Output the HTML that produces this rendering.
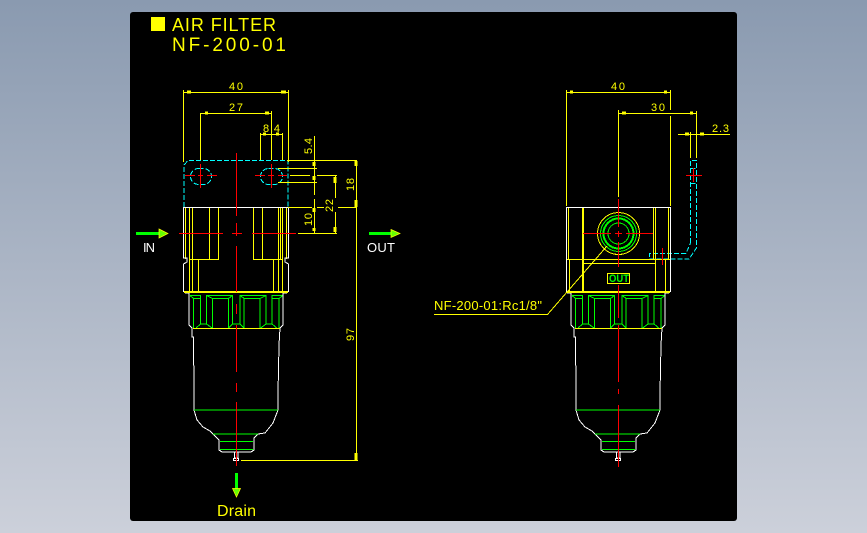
<!DOCTYPE html>
<html><head><meta charset="utf-8"><style>
html,body{margin:0;padding:0;width:867px;height:533px;overflow:hidden;background:linear-gradient(180deg,#8a9ab0 0%,#ccd0da 100%)}
svg{position:absolute;left:0;top:0}
text{font-family:"Liberation Sans",sans-serif;white-space:pre}
</style></head><body>
<svg width="867" height="533" viewBox="0 0 867 533" xmlns="http://www.w3.org/2000/svg">
<rect x="130" y="12" width="607" height="509" rx="3" fill="#000"/>
<defs>
<g id="gh" fill="none" stroke="#00ff00" stroke-width="1">
<path d="M190 295.5H200.5V324H206.5V295.5H232.5V324H236.5"/>
<path d="M190 295.5L193.5 298.5H200.5M193.5 298.5V328M206.5 295.5L212.5 298.5H228.5L232.5 295.5M212.5 298.5V328M228.5 298.5V328M206.5 324L212 328M228.5 328L232.5 324M200.5 324L196 328"/>
</g>
<g id="green"><use href="#gh"/><use href="#gh" transform="translate(472.6,0) scale(-1,1)"/></g>
<g id="lower">
<use href="#green"/>
<path fill="none" stroke="#fff" stroke-width="1" d="M185 293H189V325L192 328V337H193.5L194 393V410L197 420L203 427L210 431L213 434L219 440V450L222 452H251L254 450V438L258 434L265 433L273 423L278 410V393L279 345L280 328L283 325V293H287"/>
<path fill="none" stroke="#00ff00" d="M194 410H278M213 434H258M220 441.5H253M220 449.5H253"/>
<path fill="none" stroke="#fff" d="M234.5 452V458H238V452M233.5 458.5H238.5V460.5H233.5Z"/>
<path stroke="#ffff00" stroke-width="2" d="M184 292H288"/>
<path stroke="#ffff00" stroke-width="1" d="M193 328.5H280"/>
</g>
</defs>

<!-- title -->
<rect x="151" y="17" width="14" height="14" fill="#ffff00"/>
<text x="172" y="31" font-size="18" fill="#ffff00" textLength="104" lengthAdjust="spacing">AIR FILTER</text>
<text x="172" y="51" font-size="19" fill="#ffff00" textLength="114" lengthAdjust="spacing">NF-200-01</text>

<!-- left view body -->
<g shape-rendering="crispEdges">
<g fill="none" stroke="#ffff00" stroke-width="1">
<path d="M185.5 207V259M189.5 207V292M192.5 207V292M198.5 259V292M209.5 207V259M218.5 207V259M253.5 207V259M262.5 207V259M273.5 259V292M278.5 207V292M280.5 207V259M282.5 207V292M286.5 207V259M189 259.5H219M253 259.5H283"/>
</g>
<path fill="none" stroke="#fff" stroke-width="1" d="M183.5 292V264L187 262V258H183.5V207.5H288.5V258H285V262L288.5 264V292"/>
<use href="#lower"/>
<!-- cyan -->
<g fill="none" stroke="#00ffff" stroke-width="1" stroke-dasharray="5 2">
<path d="M184 207V165L188 160.5H288V207"/>
<rect x="190.5" y="168.5" width="21" height="16" rx="8"/>
<rect x="260.5" y="168.5" width="22" height="16" rx="8"/>
<path d="M690.5 243V160.5H696.5V248L689 259H649.5V253.5H686L690.5 243"/>
<path d="M690.5 168.5H696.5M690.5 183.5H696.5"/>
</g>
<!-- left red -->
<g stroke="#ff0000" stroke-width="1" fill="none">
<path d="M236.5 153V216M236.5 223V236M236.5 246V292M236.5 304V314M236.5 325V372M236.5 383V392M236.5 402V466"/>
<path d="M179 233.5H223M232 233.5H242M252 233.5H296"/>
<path d="M185 175.5H195M198 175.5H203M207 175.5H217M200.5 164V188"/>
<path d="M255 175.5H265M268 175.5H274M278 175.5H287M271.5 164V188"/>
</g>
<!-- left dims -->
<g stroke="#ffff00" stroke-width="1" fill="none">
<path d="M183.5 90V162M288.5 90V162M183 92.5H289"/>
<path d="M200.5 113V160M271.5 111V160M200 113.5H272"/>
<path d="M260.5 133V160M282.5 133V160M260 134.5H283"/>
<path d="M314.5 136V195M314.5 199V233"/>
<path d="M335.5 175V198M335.5 212V233"/>
<path d="M356.5 160V461"/>
<path d="M287 160.5H357M278 168.5H317M290 175.5H310M317 175.5H337M278 182.5H317M288 207.5H312M317 207.5H324M338 207.5H357M298 233.5H337M241 460.5H358"/>
</g>
<g stroke="#ffff00" stroke-width="3" fill="none">
<path d="M187 92H191M281 92H286M205 113H208M265 113H269M263 134H266M276 134H279"/>
<path d="M314 162V166M314 176V180M314 208V212M314 228V231M335 177V183M335 227V232M356 161V166M356 200V207M356 453V460"/>
</g>
<!-- right view -->
<use href="#lower" transform="translate(382,0)"/>
<g fill="none" stroke="#ffff00" stroke-width="1">
<path d="M568.5 207V259M569.5 259V292M582.5 207V292M583.5 207V292M653.5 207V259M655.5 207V292M665.5 259V292M668.5 207V259M566 259.5H670M582 263.5H655"/>
</g>
<path fill="none" stroke="#fff" d="M566.5 292V207.5H670.5V292"/>
<g fill="none">
<circle cx="618.5" cy="233.5" r="21" stroke="#ffff00"/>
<circle cx="618.5" cy="233.5" r="18" stroke="#00ff00"/>
<circle cx="618.5" cy="233.5" r="15" stroke="#00ff00" stroke-width="2"/>
<circle cx="618.5" cy="233.5" r="10.5" stroke="#00ff00"/>
</g>
<rect x="607.5" y="273.5" width="22" height="10" fill="#000" stroke="#ffff00"/>
<g stroke="#ff0000" stroke-width="1" fill="none">
<path d="M583 233.5H611M615 233.5H622M626 233.5H653M618.5 199V227M618.5 231V237M618.5 242V267"/>
<path d="M618.5 285V318M618.5 325V382M618.5 389V394M618.5 405V467"/>
<path d="M662.5 248V265M686 175.5H702M693.5 168V182"/>
</g>
<g stroke="#ffff00" stroke-width="1" fill="none">
<path d="M566.5 90V206M670.5 90V110M670.5 116V206M566 92.5H671"/>
<path d="M618.5 110V197M696.5 111V158M618 113.5H697"/>
<path d="M678 134.5H730M690.5 132V158"/>
<path d="M434 314.5H547.5L607 246"/>
</g>
<g stroke="#ffff00" stroke-width="3" fill="none">
<path d="M570 92H573M664 92H667M622 113H626M690 113H693M685 134H689M700 134H704"/>
</g>
</g>

<!-- green arrows -->
<g>
<path d="M136 233.5H160" stroke="#00ff00" stroke-width="3"/>
<path d="M159 229L168 233.5L159 238Z" fill="#66ff00" stroke="#ffff00" stroke-width="0.7"/>
<path d="M369 233.5H392" stroke="#00ff00" stroke-width="3"/>
<path d="M391 229.5L400 233.5L391 237.5Z" fill="#66ff00" stroke="#ffff00" stroke-width="0.7"/>
<path d="M236.5 473V490" stroke="#00ff00" stroke-width="3"/>
<path d="M232.5 488.5L236.5 497L240.5 488.5Z" fill="#66ff00" stroke="#ffff00" stroke-width="0.7"/>
</g>

<!-- labels -->
<g fill="#ffff00" font-size="11">
<text x="229" y="90" textLength="14" lengthAdjust="spacing">40</text>
<text x="229" y="111" textLength="14" lengthAdjust="spacing">27</text>
<text x="263" y="132" textLength="17" lengthAdjust="spacing">8.4</text>
<text x="611" y="90" textLength="14" lengthAdjust="spacing">40</text>
<text x="651" y="111" textLength="14" lengthAdjust="spacing">30</text>
<text x="712" y="132" textLength="17" lengthAdjust="spacing">2.3</text>
<text transform="translate(312,154) rotate(-90)" textLength="16" lengthAdjust="spacing">5.4</text>
<text transform="translate(312,226) rotate(-90)" textLength="13" lengthAdjust="spacing">10</text>
<text transform="translate(333,212) rotate(-90)" textLength="13" lengthAdjust="spacing">22</text>
<text transform="translate(354,191) rotate(-90)" textLength="13" lengthAdjust="spacing">18</text>
<text transform="translate(354,341) rotate(-90)" textLength="13" lengthAdjust="spacing">97</text>
<text x="434" y="310" font-size="13" textLength="108" lengthAdjust="spacing">NF-200-01:Rc1/8"</text>
<text x="217" y="516" font-size="16" textLength="39" lengthAdjust="spacing">Drain</text>
</g>
<g fill="#fff" font-size="13">
<text x="143" y="252" textLength="12" lengthAdjust="spacing">IN</text>
<text x="367" y="252" textLength="28" lengthAdjust="spacing">OUT</text>
</g>
<text x="609" y="282" font-size="11" font-weight="bold" fill="#00ff00" textLength="20" lengthAdjust="spacingAndGlyphs">OUT</text>
</svg>
</body></html>
